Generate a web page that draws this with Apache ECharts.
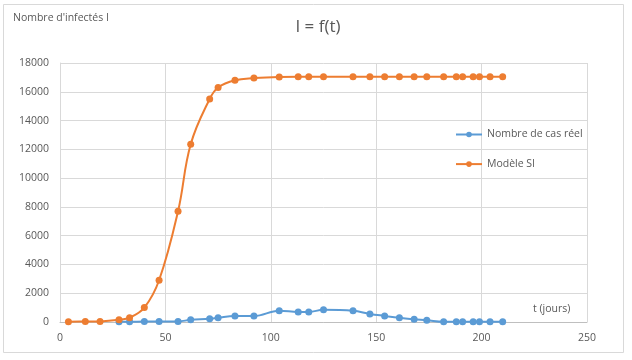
<!DOCTYPE html>
<html>
<head>
<meta charset="utf-8">
<script src="https://cdn.jsdelivr.net/npm/echarts@6/dist/echarts.min.js"></script>
<style>
html,body{margin:0;padding:0;background:#fff;}
#chart{width:632px;height:360px;}
</style>
</head>
<body>
<div id="chart"></div>
<script>
// Data
const daysModel = [4, 12, 19, 28, 33, 40, 47, 56, 62, 71, 75, 83, 92, 104, 113, 118, 125, 139, 147, 154, 161, 168, 174, 182, 188, 191, 196, 199, 204, 210];
const modelSI = [20, 30, 40, 150, 300, 1000, 2900, 7700, 12350, 15500, 16300, 16800, 16950, 17030, 17040, 17040, 17040, 17040, 17040, 17040, 17040, 17040, 17040, 17040, 17040, 17040, 17040, 17040, 17040, 17040];
const daysReal = [28, 33, 40, 47, 56, 62, 71, 75, 83, 92, 104, 113, 118, 125, 139, 147, 154, 161, 168, 174, 182, 188, 191, 196, 199, 204, 210];
const casReel = [10, 20, 30, 40, 40, 150, 220, 300, 420, 420, 780, 700, 700, 850, 780, 560, 420, 290, 190, 120, 10, 10, 10, 10, 10, 10, 10];
const xTicks = [0, 50, 100, 150, 200, 250];
const yTicks = [0, 2000, 4000, 6000, 8000, 10000, 12000, 14000, 16000, 18000];
const seriesNames = ['Nombre de cas réel', 'Modèle SI'];
const titleText = 'I = f(t)';
const yAxisTitle = "Nombre d'infectés I";
const xAxisTitle = 't (jours)';

const FONT = 'Open Sans';
const TXT = '#595959';
const chart = echarts.init(document.getElementById('chart'), null, {renderer: 'canvas'});
const zip = (xs, ys) => xs.map((x, i) => [x, ys[i]]);
chart.setOption({
  animation: false,
  backgroundColor: '#fff',
  textStyle: {fontFamily: FONT},
  title: {
    text: titleText, left: 313, top: 14, textAlign: 'center',
    textStyle: {fontFamily: FONT, fontSize: 17, fontWeight: 'normal', color: TXT}
  },
  grid: {left: 60, top: 63, right: 45, bottom: 38, containLabel: false},
  legend: {
    orient: 'vertical', left: 450, top: 124, itemWidth: 26, itemHeight: 7, itemGap: 18.6,
    textStyle: {fontFamily: FONT, fontSize: 10.5, color: TXT},
    data: seriesNames
  },
  xAxis: {
    type: 'value', min: xTicks[0], max: xTicks[xTicks.length - 1], interval: 50,
    axisLine: {show: true, lineStyle: {color: '#bfbfbf', width: 1}},
    axisTick: {show: false},
    splitLine: {show: true, lineStyle: {color: '#d9d9d9', width: 1}},
    axisLabel: {fontFamily: FONT, fontSize: 10.5, color: TXT, margin: 11}
  },
  yAxis: {
    type: 'value', min: yTicks[0], max: yTicks[yTicks.length - 1], interval: 2000,
    axisLine: {show: true, lineStyle: {color: '#d9d9d9', width: 1}},
    axisTick: {show: false},
    splitLine: {show: true, lineStyle: {color: '#d9d9d9', width: 1}},
    axisLabel: {fontFamily: FONT, fontSize: 10.5, color: TXT, margin: 11, formatter: v => String(v)}
  },
  graphic: [
    {type: 'rect', silent: true, z: -1, shape: {x: 3.5, y: 4.5, width: 620, height: 348},
     style: {fill: 'none', stroke: '#d9d9d9', lineWidth: 1}},
    {type: 'text', left: 13, top: 13, style: {text: yAxisTitle, fontFamily: FONT, fontSize: 10.5, fill: TXT}},
    {type: 'text', left: 533, top: 304, style: {text: xAxisTitle, fontFamily: FONT, fontSize: 10.5, fill: TXT}}
  ],
  series: [
    {
      name: seriesNames[0], type: 'line', data: zip(daysReal, casReel), smooth: 0.4,
      symbol: 'circle', symbolSize: 7,
      itemStyle: {color: '#5B9BD5'}, lineStyle: {color: '#5B9BD5', width: 2}
    },
    {
      name: seriesNames[1], type: 'line', data: zip(daysModel, modelSI), smooth: 0.4,
      symbol: 'circle', symbolSize: 7,
      itemStyle: {color: '#ED7D31'}, lineStyle: {color: '#ED7D31', width: 2}
    }
  ]
});
</script>
</body>
</html>
